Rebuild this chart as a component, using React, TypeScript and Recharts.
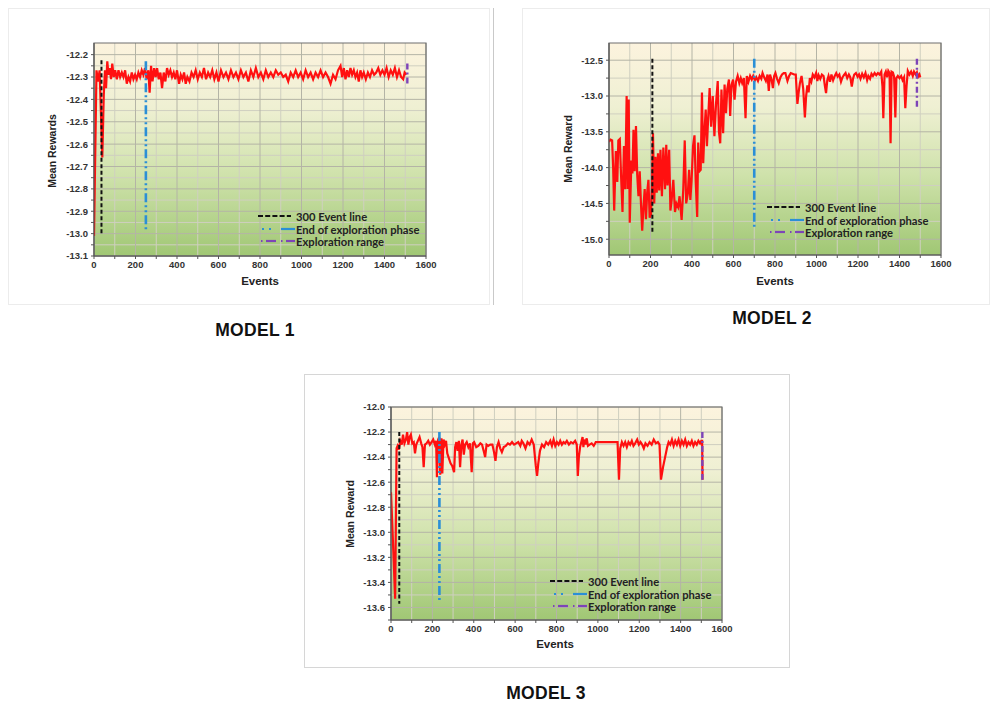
import React from 'react';
import { LineChart, Line, XAxis, YAxis, CartesianGrid, ReferenceLine, ReferenceArea, Legend } from 'recharts';

const X_MAJOR = [0, 200, 400, 600, 800, 1000, 1200, 1400, 1600];
const X_MINOR = [100, 300, 500, 700, 900, 1100, 1300, 1500];

// ---------- MODEL 1 ----------
const M1_EVENTS = [0, 12, 20, 27, 33, 40, 47, 53, 58, 64, 70, 76, 82, 88, 95, 102, 110, 118, 126, 134, 142, 150, 158, 166, 174, 182, 190, 198, 206, 214, 222, 230, 238, 246, 254, 262, 268, 275, 282, 290, 297, 304, 312, 320, 328, 336, 344, 352, 360, 368, 376, 384, 392, 400, 410, 418, 426, 434, 442, 450, 460, 470, 480, 490, 500, 510, 520, 530, 540, 550, 560, 570, 580, 590, 600, 612, 624, 636, 648, 660, 672, 684, 696, 708, 720, 732, 744, 756, 768, 780, 792, 804, 816, 828, 840, 852, 864, 876, 888, 900, 912, 924, 936, 948, 960, 972, 984, 996, 1008, 1020, 1032, 1044, 1056, 1068, 1080, 1092, 1104, 1116, 1128, 1140, 1152, 1164, 1176, 1188, 1196, 1204, 1212, 1220, 1228, 1236, 1244, 1252, 1260, 1268, 1276, 1284, 1292, 1300, 1310, 1320, 1330, 1340, 1350, 1360, 1370, 1380, 1390, 1400, 1410, 1420, 1430, 1440, 1450, 1460, 1470, 1480, 1490, 1497, 1505];
const M1_REWARDS = [-13.01, -12.27, -12.32, -12.27, -12.45, -12.66, -12.38, -12.27, -12.35, -12.23, -12.29, -12.26, -12.31, -12.24, -12.3, -12.27, -12.31, -12.27, -12.3, -12.28, -12.3, -12.27, -12.33, -12.3, -12.32, -12.28, -12.31, -12.29, -12.31, -12.28, -12.3, -12.27, -12.29, -12.26, -12.31, -12.27, -12.37, -12.25, -12.32, -12.26, -12.3, -12.26, -12.31, -12.28, -12.35, -12.28, -12.32, -12.26, -12.29, -12.27, -12.3, -12.28, -12.31, -12.27, -12.33, -12.29, -12.31, -12.28, -12.33, -12.3, -12.32, -12.28, -12.3, -12.27, -12.31, -12.28, -12.3, -12.26, -12.31, -12.28, -12.3, -12.27, -12.31, -12.28, -12.32, -12.27, -12.3, -12.28, -12.31, -12.27, -12.3, -12.28, -12.31, -12.27, -12.3, -12.28, -12.32, -12.27, -12.3, -12.26, -12.3, -12.28, -12.31, -12.27, -12.3, -12.28, -12.3, -12.27, -12.29, -12.28, -12.3, -12.29, -12.32, -12.28, -12.3, -12.27, -12.3, -12.28, -12.31, -12.27, -12.3, -12.28, -12.31, -12.28, -12.3, -12.27, -12.3, -12.28, -12.3, -12.33, -12.29, -12.31, -12.27, -12.25, -12.3, -12.26, -12.31, -12.27, -12.3, -12.26, -12.29, -12.27, -12.3, -12.28, -12.32, -12.27, -12.3, -12.28, -12.31, -12.28, -12.3, -12.27, -12.29, -12.28, -12.26, -12.29, -12.27, -12.29, -12.26, -12.3, -12.27, -12.29, -12.26, -12.3, -12.27, -12.3, -12.31, -12.28, -12.29];
const M1_Y_MAJOR = [-13.1, -13.0, -12.9, -12.8, -12.7, -12.6, -12.5, -12.4, -12.3, -12.2];
const M1_Y_MINOR = [-13.05, -12.95, -12.85, -12.75, -12.65, -12.55, -12.45, -12.35, -12.25];
const M1_Y_DOMAIN: [number, number] = [-13.1, -12.148];
// [event, top, bottom]
const M1_EVENT300 = [36, -12.225, -13.0];
const M1_EXPLORE_END = [250, -12.23, -12.98];
const M1_EXPLORE_RANGE = [1510, -12.24, -12.33];

// ---------- MODEL 2 ----------
const M2_EVENTS = [0, 8, 15, 20, 25, 33, 40, 45, 52, 58, 65, 72, 78, 85, 90, 95, 100, 108, 113, 118, 124, 130, 136, 142, 148, 154, 160, 166, 172, 178, 184, 190, 196, 202, 207, 212, 218, 224, 230, 236, 242, 248, 255, 262, 270, 276, 282, 290, 296, 302, 310, 318, 325, 333, 340, 350, 358, 365, 372, 380, 386, 392, 398, 405, 412, 418, 425, 430, 436, 442, 448, 454, 460, 466, 472, 478, 485, 492, 500, 508, 516, 524, 530, 536, 542, 550, 557, 564, 570, 578, 584, 590, 598, 605, 612, 620, 628, 635, 642, 650, 658, 664, 672, 680, 688, 695, 703, 710, 718, 726, 734, 740, 748, 756, 764, 770, 776, 784, 790, 796, 802, 810, 818, 826, 834, 842, 850, 860, 868, 876, 884, 892, 900, 908, 914, 920, 928, 936, 944, 950, 956, 962, 968, 975, 982, 990, 998, 1004, 1010, 1018, 1026, 1034, 1040, 1046, 1052, 1058, 1065, 1072, 1080, 1088, 1095, 1102, 1110, 1118, 1125, 1132, 1140, 1148, 1156, 1163, 1170, 1176, 1182, 1190, 1198, 1205, 1212, 1220, 1228, 1236, 1244, 1250, 1258, 1265, 1272, 1280, 1288, 1296, 1304, 1312, 1318, 1322, 1328, 1334, 1340, 1346, 1352, 1357, 1362, 1368, 1374, 1380, 1385, 1392, 1400, 1408, 1415, 1422, 1428, 1434, 1440, 1448, 1456, 1464, 1470, 1478, 1484, 1490, 1496, 1500];
const M2_REWARDS = [-13.64, -13.61, -13.62, -14.0, -14.6, -13.77, -14.2, -13.62, -13.6, -14.1, -14.62, -13.7, -14.3, -13.0, -14.3, -13.05, -14.77, -13.9, -14.08, -13.47, -14.05, -13.42, -14.1, -14.4, -14.05, -14.5, -14.88, -14.55, -14.3, -14.72, -14.35, -14.17, -14.7, -14.65, -14.3, -13.52, -14.5, -13.85, -14.35, -13.8, -14.32, -13.75, -14.4, -13.72, -14.3, -13.68, -14.25, -13.75, -14.6, -14.45, -14.17, -14.62, -14.5, -14.55, -14.4, -14.73, -14.3, -13.62, -14.5, -14.36, -14.03, -14.45, -14.18, -13.7, -13.55, -14.2, -14.69, -13.65, -14.05, -14.03, -12.95, -13.94, -13.5, -13.19, -13.7, -13.3, -12.89, -13.43, -13.0, -13.56, -13.1, -12.79, -13.5, -13.66, -12.91, -13.52, -12.84, -13.24, -12.9, -12.77, -13.28, -12.85, -12.77, -13.05, -12.8, -12.72, -12.82, -12.75, -12.82, -12.75, -13.31, -12.72, -12.8, -12.72, -12.77, -12.72, -12.78, -12.74, -12.79, -12.72, -12.76, -12.68, -12.74, -12.79, -12.7, -12.93, -12.7, -12.78, -12.89, -12.72, -12.68, -12.76, -12.82, -12.74, -12.7, -12.68, -12.68, -12.79, -12.72, -12.68, -12.69, -12.7, -12.7, -13.11, -12.95, -12.82, -12.72, -12.9, -13.3, -13.0, -12.85, -12.95, -12.75, -12.8, -12.7, -12.74, -12.68, -12.79, -12.71, -12.76, -12.7, -12.72, -12.85, -12.96, -12.78, -12.72, -12.8, -12.7, -12.78, -12.72, -12.68, -12.73, -12.7, -12.8, -12.74, -12.71, -12.68, -12.75, -12.7, -12.74, -12.87, -12.76, -12.7, -12.68, -12.73, -12.7, -12.76, -12.69, -12.74, -12.68, -12.78, -12.72, -12.76, -12.69, -12.72, -12.68, -12.71, -12.68, -12.7, -12.66, -12.87, -13.31, -12.7, -12.66, -12.74, -12.65, -12.68, -13.66, -12.66, -12.67, -12.73, -13.3, -12.75, -12.72, -12.75, -12.72, -12.78, -12.74, -13.17, -12.86, -12.65, -12.7, -12.66, -12.72, -12.66, -12.7, -12.67, -12.73, -12.7, -12.74];
const M2_Y_MAJOR = [-15.0, -14.5, -14.0, -13.5, -13.0, -12.5];
const M2_Y_MINOR = [-14.75, -14.25, -13.75, -13.25, -12.75];
const M2_Y_DOMAIN: [number, number] = [-15.22, -12.26];
const M2_EVENT300 = [209, -12.48, -14.9];
const M2_EXPLORE_END = [700, -12.48, -14.83];
const M2_EXPLORE_RANGE = [1484, -12.48, -13.15];

// ---------- MODEL 3 ----------
const M3_EVENTS = [0, 10, 20, 27, 32, 38, 45, 52, 58, 65, 72, 78, 84, 90, 96, 103, 110, 116, 122, 130, 138, 146, 152, 158, 164, 172, 180, 188, 196, 204, 212, 218, 222, 228, 233, 238, 244, 248, 254, 260, 266, 272, 280, 288, 296, 305, 310, 316, 322, 328, 334, 340, 346, 352, 358, 366, 374, 382, 390, 396, 402, 412, 422, 432, 440, 448, 455, 462, 470, 480, 490, 498, 505, 512, 520, 528, 536, 545, 555, 565, 575, 585, 595, 605, 615, 625, 632, 640, 650, 660, 670, 680, 690, 700, 706, 712, 720, 730, 740, 750, 760, 770, 778, 786, 794, 802, 810, 818, 826, 834, 842, 850, 860, 870, 880, 890, 898, 903, 908, 914, 920, 926, 930, 934, 940, 946, 952, 960, 970, 980, 990, 1000, 1020, 1040, 1060, 1080, 1095, 1102, 1108, 1116, 1124, 1132, 1140, 1148, 1156, 1164, 1172, 1180, 1190, 1198, 1206, 1214, 1222, 1230, 1240, 1250, 1260, 1270, 1280, 1290, 1298, 1305, 1315, 1325, 1335, 1342, 1350, 1358, 1366, 1374, 1382, 1390, 1398, 1406, 1414, 1422, 1430, 1438, 1446, 1454, 1462, 1470, 1478, 1486, 1494, 1500, 1504, 1506];
const M3_REWARDS = [-12.68, -13.1, -13.53, -12.33, -12.31, -12.34, -12.27, -12.3, -12.22, -12.29, -12.26, -12.2, -12.3, -12.24, -12.22, -12.29, -12.28, -12.37, -12.3, -12.27, -12.24, -12.29, -12.32, -12.48, -12.3, -12.29, -12.27, -12.3, -12.28, -12.26, -12.3, -12.27, -12.56, -12.26, -12.24, -12.54, -12.25, -12.53, -12.26, -12.3, -12.27, -12.37, -12.41, -12.45, -12.47, -12.52, -12.32, -12.28, -12.35, -12.27, -12.48, -12.3, -12.26, -12.38, -12.3, -12.28, -12.32, -12.29, -12.52, -12.29, -12.28, -12.32, -12.31, -12.29, -12.3, -12.35, -12.4, -12.3, -12.31, -12.3, -12.3, -12.36, -12.43, -12.32, -12.28, -12.33, -12.36, -12.32, -12.31, -12.29, -12.3, -12.28, -12.3, -12.29, -12.28, -12.31, -12.27, -12.29, -12.33, -12.28, -12.3, -12.26, -12.3, -12.47, -12.55, -12.45, -12.35, -12.3, -12.32, -12.28, -12.3, -12.27, -12.31, -12.26, -12.31, -12.28, -12.3, -12.27, -12.3, -12.28, -12.29, -12.27, -12.3, -12.28, -12.29, -12.27, -12.3, -12.55, -12.4, -12.32, -12.28, -12.24, -12.32, -12.26, -12.3, -12.25, -12.31, -12.3, -12.29, -12.31, -12.28, -12.28, -12.28, -12.28, -12.28, -12.28, -12.28, -12.58, -12.33, -12.28, -12.31, -12.28, -12.32, -12.28, -12.3, -12.27, -12.31, -12.29, -12.26, -12.3, -12.28, -12.3, -12.33, -12.29, -12.31, -12.28, -12.3, -12.26, -12.29, -12.28, -12.3, -12.58, -12.48, -12.4, -12.32, -12.28, -12.3, -12.26, -12.31, -12.27, -12.3, -12.26, -12.31, -12.27, -12.3, -12.26, -12.31, -12.28, -12.3, -12.27, -12.31, -12.28, -12.3, -12.27, -12.29, -12.27, -12.27, -12.58];
const M3_Y_MAJOR = [-13.6, -13.4, -13.2, -13.0, -12.8, -12.6, -12.4, -12.2, -12.0];
const M3_Y_MINOR = [-13.7, -13.5, -13.3, -13.1, -12.9, -12.7, -12.5, -12.3, -12.1];
const M3_Y_DOMAIN: [number, number] = [-13.7, -12.0];
const M3_EVENT300 = [40, -12.2, -13.57];
const M3_EXPLORE_END = [234, -12.2, -13.55];
const M3_EXPLORE_RANGE = [1505, -12.2, -12.58];

const LEGEND_LABELS = ['300 Event line', 'End of exploration phase', 'Exploration range'];

const FONT = "'Liberation Sans', Arial, sans-serif";
const LEG_FONT = "Lato, 'Open Sans', sans-serif";
const BLACK = '#111111';
const BLUE = '#2b8fd6';
const PURPLE = '#7d44b8';
const RED = '#ff1010';

const tickStyle = { fontSize: 9.5, fontWeight: 700, fill: '#333', fontFamily: FONT };

const LegendBox = () => (
  <svg width={200} height={40} style={{ display: 'block', overflow: 'visible' }}>
    <line x1={4} x2={37} y1={6} y2={6} stroke={BLACK} strokeWidth={2} strokeDasharray="5 2.2" />
    <line x1={8} x2={10} y1={19} y2={19} stroke={BLUE} strokeWidth={2.2} />
    <line x1={15} x2={17} y1={19} y2={19} stroke={BLUE} strokeWidth={2.2} />
    <line x1={27} x2={41} y1={19} y2={19} stroke={BLUE} strokeWidth={2.2} />
    <line x1={7} x2={8.5} y1={31} y2={31} stroke={PURPLE} strokeWidth={2.2} />
    <line x1={12} x2={22} y1={31} y2={31} stroke={PURPLE} strokeWidth={2.2} />
    <line x1={27} x2={28.5} y1={31} y2={31} stroke={PURPLE} strokeWidth={2.2} />
    <line x1={32} x2={41} y1={31} y2={31} stroke={PURPLE} strokeWidth={2.2} />
    {LEGEND_LABELS.map((t, i) => (
      <text key={t} x={42} y={[6, 19, 31][i]} dominantBaseline="central" fontFamily={LEG_FONT} fontWeight={700} fontSize={11.2} fill="#222">{t}</text>
    ))}
  </svg>
);

interface PanelProps {
  gid: string;
  width: number;
  height: number;
  margin: { top: number; right: number; bottom: number; left: number };
  events: number[];
  rewards: number[];
  yDomain: [number, number];
  yMajor: number[];
  yMinor: number[];
  ev300: number[];
  expEnd: number[];
  expRange: number[];
  legendLeft: number;
  legendTop: number;
}

function Panel(p: PanelProps) {
  const data = p.events.map((x, i) => ({ x, y: p.rewards[i] }));
  const yTicks = [...p.yMajor, ...p.yMinor].filter(v => v >= p.yDomain[0] - 1e-9 && v <= p.yDomain[1] + 1e-9).sort((a, b) => a - b);
  const isMajor = (v: number) => p.yMajor.some(m => Math.abs(m - v) < 1e-6);
  const xTicks = [...X_MAJOR, ...X_MINOR].sort((a, b) => a - b);
  return (
    <LineChart width={p.width} height={p.height} data={data} margin={p.margin}>
      <defs>
        <linearGradient id={p.gid} x1="0" y1="0" x2="0" y2="1">
          <stop offset="0%" stopColor="#fcf3de" />
          <stop offset="30%" stopColor="#eff0d3" />
          <stop offset="62%" stopColor="#cfe2ab" />
          <stop offset="100%" stopColor="#a0c774" />
        </linearGradient>
      </defs>
      <CartesianGrid fill={`url(#${p.gid})`} fillOpacity={1} stroke="#cfcfc0" horizontalValues={p.yMinor} verticalValues={X_MINOR} />
      <CartesianGrid stroke="#b4b4a6" horizontalValues={p.yMajor} verticalValues={X_MAJOR} />
      <XAxis dataKey="x" type="number" domain={[0, 1600]} ticks={xTicks} interval={0} allowDataOverflow
        tickFormatter={(v: number) => (X_MAJOR.includes(v) ? String(v) : '')}
        tickSize={3} tickMargin={2} height={24} stroke="#555" tick={tickStyle} />
      <YAxis type="number" domain={p.yDomain} ticks={yTicks} interval={0} allowDataOverflow
        tickFormatter={(v: number) => (isMajor(v) ? v.toFixed(1) : '')}
        width={44} tickSize={3} tickMargin={3} stroke="#555" tick={tickStyle} />
      <ReferenceArea x1={0} x2={1600} y1={p.yDomain[0]} y2={p.yDomain[1]} fill="none" fillOpacity={0} stroke="#6f6f6f" strokeWidth={1.2} />
      <Line type="linear" dataKey="y" stroke={RED} strokeWidth={2.2} dot={false} isAnimationActive={false} />
      <ReferenceLine segment={[{ x: p.ev300[0], y: p.ev300[1] }, { x: p.ev300[0], y: p.ev300[2] }]} stroke={BLACK} strokeWidth={2} strokeDasharray="4 2.5" />
      <ReferenceLine segment={[{ x: p.expEnd[0], y: p.expEnd[1] }, { x: p.expEnd[0], y: p.expEnd[2] }]} stroke={BLUE} strokeWidth={2.6} strokeDasharray="9 3 2 3 2 3" />
      <ReferenceLine segment={[{ x: p.expRange[0], y: p.expRange[1] }, { x: p.expRange[0], y: p.expRange[2] }]} stroke={PURPLE} strokeWidth={2.4} strokeDasharray="6 3 2 3" />
      <Legend layout="horizontal" verticalAlign="middle" align="center" content={() => <LegendBox />}
        wrapperStyle={{ position: 'absolute', left: p.legendLeft, top: p.legendTop, width: 200, height: 40 }} />
    </LineChart>
  );
}

const abs = (left: number, top: number): React.CSSProperties => ({ position: 'absolute', left, top });

const Title = ({ text, cx, cy }: { text: string; cx: number; cy: number }) => (
  <div style={{ position: 'absolute', left: cx, top: cy, transform: 'translate(-50%, -50%)', fontFamily: FONT, fontWeight: 700, fontSize: 17.5, color: '#111', whiteSpace: 'nowrap', letterSpacing: 0.3 }}>{text}</div>
);

const AxisTitle = ({ text, cx, cy, rotate }: { text: string; cx: number; cy: number; rotate?: boolean }) => (
  <div style={{ position: 'absolute', left: cx, top: cy, transform: `translate(-50%, -50%)${rotate ? ' rotate(-90deg)' : ''}`, fontFamily: FONT, fontWeight: 700, fontSize: rotate ? 10.5 : 11.5, color: '#222', whiteSpace: 'nowrap', lineHeight: 1 }}>{text}</div>
);

export default function App() {
  return (
    <div style={{ position: 'absolute', left: 0, top: 0, width: 1000, height: 705, background: '#fff', overflow: 'hidden' }}>
      {/* panel frames */}
      <div style={{ position: 'absolute', left: 8, top: 8, width: 482, height: 297, border: '1px solid #ececec', boxSizing: 'border-box' }} />
      <div style={{ position: 'absolute', left: 493, top: 8, width: 1, height: 297, background: '#c9c9c9' }} />
      <div style={{ position: 'absolute', left: 522, top: 8, width: 468, height: 297, border: '1px solid #ececec', boxSizing: 'border-box' }} />
      <div style={{ position: 'absolute', left: 304, top: 374, width: 486, height: 294, border: '1px solid #d6d6d6', boxSizing: 'border-box' }} />

      <div style={abs(0, 0)}>
        <Panel gid="g1" width={490} height={300} margin={{ top: 43, right: 64, bottom: 20, left: 50 }}
          events={M1_EVENTS} rewards={M1_REWARDS} yDomain={M1_Y_DOMAIN} yMajor={M1_Y_MAJOR} yMinor={M1_Y_MINOR}
          ev300={M1_EVENT300} expEnd={M1_EXPLORE_END} expRange={M1_EXPLORE_RANGE} legendLeft={254} legendTop={210} />
      </div>
      <div style={abs(500, 0)}>
        <Panel gid="g2" width={490} height={300} margin={{ top: 43, right: 49, bottom: 21, left: 65 }}
          events={M2_EVENTS} rewards={M2_REWARDS} yDomain={M2_Y_DOMAIN} yMajor={M2_Y_MAJOR} yMinor={M2_Y_MINOR}
          ev300={M2_EVENT300} expEnd={M2_EXPLORE_END} expRange={M2_EXPLORE_RANGE} legendLeft={263} legendTop={201} />
      </div>
      <div style={abs(300, 370)}>
        <Panel gid="g3" width={490} height={300} margin={{ top: 37, right: 68, bottom: 26, left: 47 }}
          events={M3_EVENTS} rewards={M3_REWARDS} yDomain={M3_Y_DOMAIN} yMajor={M3_Y_MAJOR} yMinor={M3_Y_MINOR}
          ev300={M3_EVENT300} expEnd={M3_EXPLORE_END} expRange={M3_EXPLORE_RANGE} legendLeft={246} legendTop={205} />
      </div>

      <AxisTitle text="Mean Rewards" cx={52} cy={151} rotate />
      <AxisTitle text="Events" cx={260} cy={282} />
      <AxisTitle text="Mean Reward" cx={568} cy={149} rotate />
      <AxisTitle text="Events" cx={775} cy={282} />
      <AxisTitle text="Mean Reward" cx={350} cy={514} rotate />
      <AxisTitle text="Events" cx={555} cy={645} />

      <Title text="MODEL 1" cx={255} cy={330} />
      <Title text="MODEL 2" cx={772} cy={318} />
      <Title text="MODEL 3" cx={546} cy={693} />
    </div>
  );
}
